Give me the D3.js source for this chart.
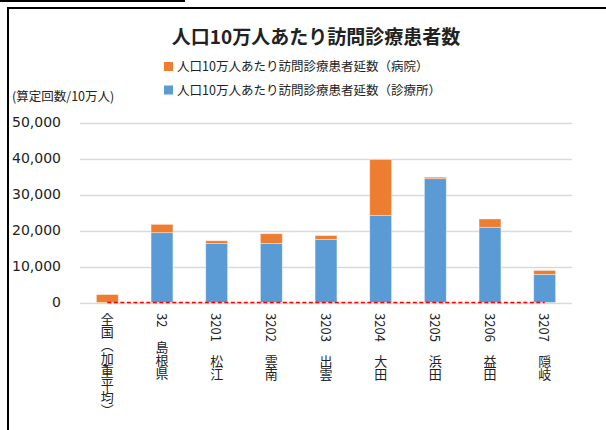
<!DOCTYPE html>
<html lang="ja">
<head>
<meta charset="utf-8">
<title>人口10万人あたり訪問診療患者数</title>
<script src="https://d3js.org/d3.v7.min.js"></script>
<style>
  body { margin: 0; background: #fff; }
  text { font-family: "Noto Sans CJK JP", "Noto Sans", sans-serif; fill: #222; }
</style>
</head>
<body>
<script>
// data
var codes = ["", "32", "3201", "3202", "3203", "3204", "3205", "3206", "3207"];
var names = ["全国（加重平均）", "島根県", "松江", "雲南", "出雲", "大田", "浜田", "益田", "隠岐"];
var clinicValues = [0, 19400, 16400, 16400, 17500, 24200, 34400, 20900, 7800];      // 診療所
var hospitalValues = [2200, 2300, 750, 2700, 1100, 15500, 400, 2300, 1100];         // 病院
var nationalLine = [0, 0, 0, 0, 0, 0, 0, 0, 0];
var yTicks = [0, 10000, 20000, 30000, 40000, 50000];
var seriesNames = ["人口10万人あたり訪問診療患者延数（病院）", "人口10万人あたり訪問診療患者延数（診療所）"];

var width = 606, height = 430;
var plot = {left: 80, right: 572, top: 122.5, bottom: 302.5};

var svg = d3.select("body").append("svg")
    .attr("width", width)
    .attr("height", height);

// frame lines
svg.append("line").attr("x1", 0).attr("x2", 185).attr("y1", 1).attr("y2", 1)
    .attr("stroke", "#000").attr("stroke-width", 2);
svg.append("path").attr("d", "M8," + height + "V8H" + width)
    .attr("fill", "none").attr("stroke", "#000").attr("stroke-width", 2);

var labels = codes.map(function(c, i) { return c ? c + "\u3000" + names[i] : names[i]; });

var x = d3.scaleBand().domain(d3.range(codes.length))
    .range([plot.left, plot.right])
    .paddingInner(0.6).paddingOuter(0.3);
var y = d3.scaleLinear().domain([0, 50000]).range([plot.bottom, plot.top]);

// gridlines
svg.append("g").selectAll("line").data(yTicks).enter().append("line")
    .attr("x1", plot.left).attr("x2", plot.right)
    .attr("y1", function(d) { return Math.round(y(d)) + 0.5; })
    .attr("y2", function(d) { return Math.round(y(d)) + 0.5; })
    .attr("stroke", "#d9d9d9").attr("stroke-width", 1.5);

// y axis labels
var yAxis = d3.axisLeft(y).tickValues(yTicks).tickSize(0).tickPadding(0)
    .tickFormat(d3.format(","));
var yg = svg.append("g").attr("transform", "translate(61,0)").call(yAxis);
yg.select(".domain").remove();
yg.selectAll("text").style("font-size", "14px").attr("fill", "#222")
    .style("font-family", "'DejaVu Sans', sans-serif");

// stacked bars
var stacks = clinicValues.map(function(v, i) { return {i: i, clinic: v, hospital: hospitalValues[i]}; });
var bars = svg.append("g");
bars.selectAll(".clinic").data(stacks).enter().append("rect")
    .attr("class", "clinic")
    .attr("x", function(d) { return x(d.i); })
    .attr("width", x.bandwidth())
    .attr("y", function(d) { return y(d.clinic); })
    .attr("height", function(d) { return y(0) - y(d.clinic); })
    .attr("fill", "#5b9bd5");
bars.selectAll(".hospital").data(stacks).enter().append("rect")
    .attr("class", "hospital")
    .attr("x", function(d) { return x(d.i); })
    .attr("width", x.bandwidth())
    .attr("y", function(d) { return y(d.clinic + d.hospital); })
    .attr("height", function(d) { return y(d.clinic) - y(d.clinic + d.hospital); })
    .attr("fill", "#ed7d31");
bars.selectAll("rect").attr("stroke", "#fff").attr("stroke-opacity", 0.45).attr("stroke-width", 0.8);

// national reference line (dashed red)
var line = d3.line()
    .x(function(d, i) { return x(i) + x.bandwidth() / 2; })
    .y(function(d) { return y(d); });
svg.append("path").datum(nationalLine)
    .attr("d", line)
    .attr("fill", "none").attr("stroke", "#ff0000")
    .attr("stroke-width", 1.5).attr("stroke-dasharray", "4,2.5");

// category labels, vertical
svg.append("g").selectAll("text").data(labels).enter().append("text")
    .attr("x", function(d, i) { return x(i) + x.bandwidth() / 2; })
    .attr("y", 313)
    .style("writing-mode", "vertical-rl")
    .style("font-size", "13px")
    .text(function(d) { return d; });

// title
svg.append("text").attr("x", 316).attr("y", 44)
    .attr("text-anchor", "middle")
    .style("font-size", "19px").style("font-weight", "bold").attr("fill", "#111")
    .text("人口10万人あたり訪問診療患者数");

// legend
var legendColors = ["#ed7d31", "#5b9bd5"];
var legend = svg.append("g").selectAll("g").data(seriesNames).enter().append("g")
    .attr("transform", function(d, i) { return "translate(164," + (62 + i * 23.5) + ")"; });
legend.append("rect").attr("width", 9).attr("height", 9)
    .attr("fill", function(d, i) { return legendColors[i]; });
legend.append("text").attr("x", 13).attr("y", 9)
    .style("font-size", "12.5px")
    .text(function(d) { return d; });

// y axis title
svg.append("text").attr("x", 12).attr("y", 101)
    .style("font-size", "12.5px")
    .text("(算定回数/10万人)");
</script>
</body>
</html>
